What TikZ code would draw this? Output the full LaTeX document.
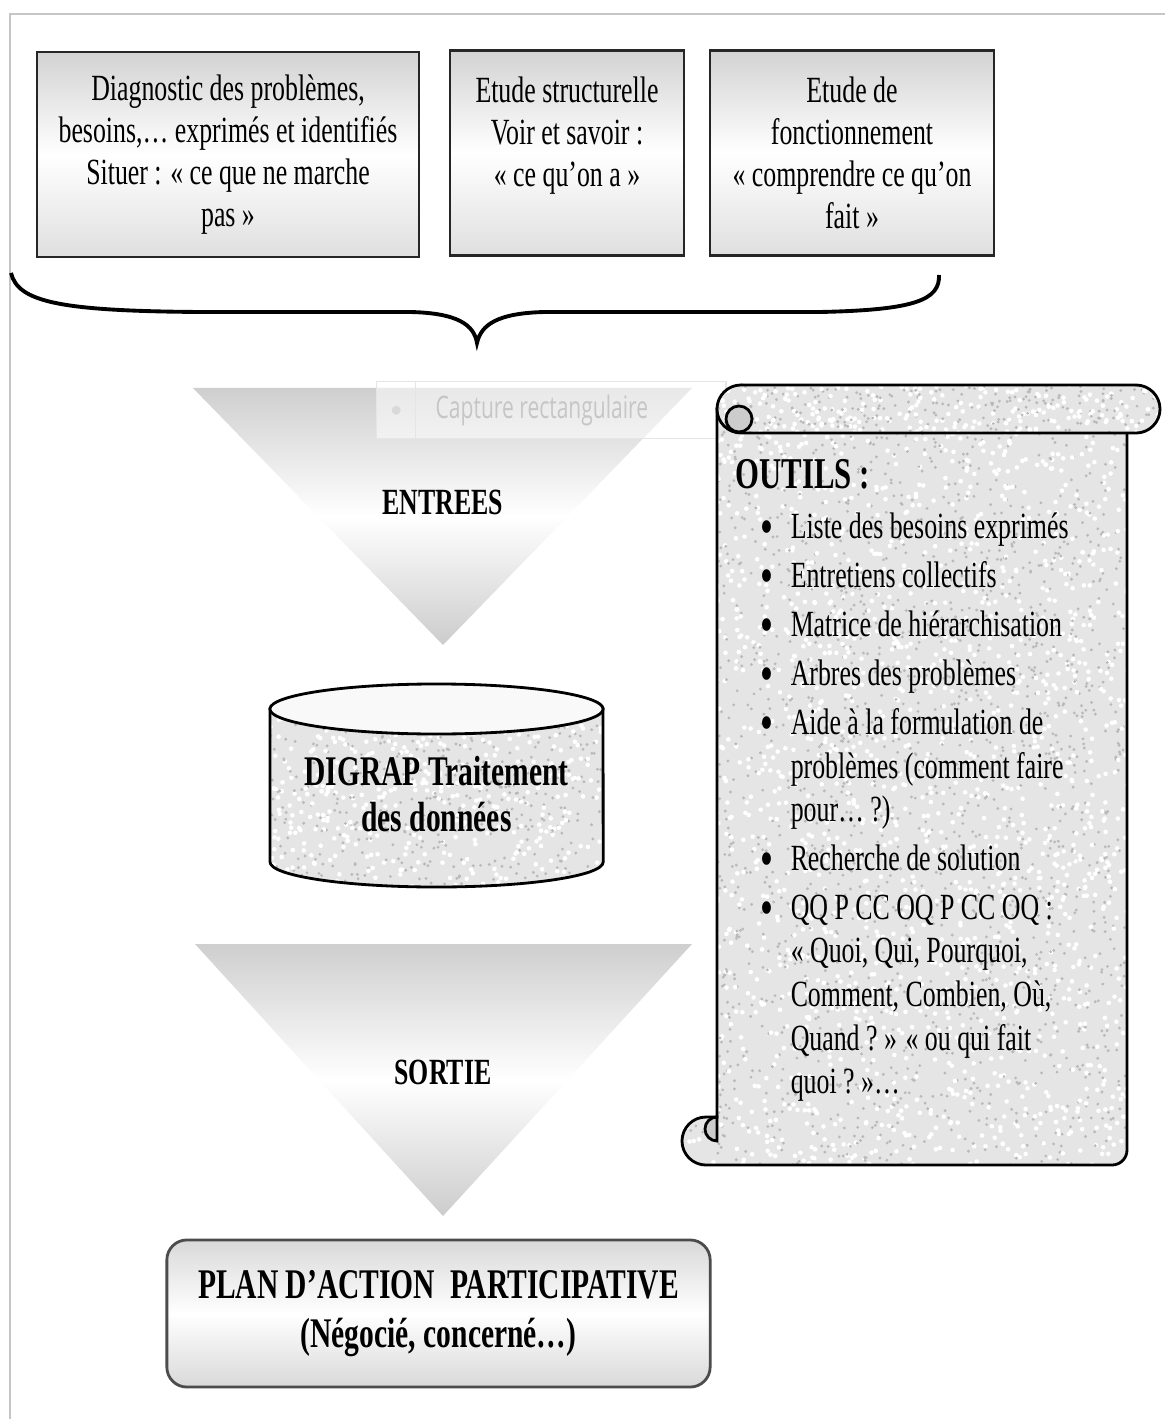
\documentclass[tikz,border=0pt]{standalone}
\usepackage{fontspec}
\setmainfont{Liberation Serif}[FakeStretch=0.7]
\newfontfamily\capfont{Open Sans}[FakeStretch=0.68]
\usetikzlibrary{positioning, calc}

% speckled stone look for the scroll and the drum
\newcommand{\granite}[5]{%
  \foreach \k in {1,...,#5}{%
    \fill[gray!55] ({#1+rnd*(#3-#1)},{#2+rnd*(#4-#2)}) circle (0.45pt);
    \fill[white] ({#1+rnd*(#3-#1)},{#2+rnd*(#4-#2)}) circle (0.65pt);
  }}
\newcommand{\scrollbody}{(717,409) -- (717,1117) -- (706,1117) arc[start angle=90, end angle=270, radius=0.24cm] -- (1112,1165) arc[start angle=270, end angle=360, radius=0.15cm] -- (1127,409) -- cycle}
\newcommand{\scrollroll}{(741,385) -- (1136,385) arc[start angle=90, end angle=-90, radius=0.24cm] -- (741,433) arc[start angle=270, end angle=90, radius=0.24cm] -- cycle}
\newcommand{\drumbody}{(270,709) -- (270,862) arc[start angle=180, end angle=360, x radius=1.665cm, y radius=0.25cm] -- (603,709) -- cycle}
\newcommand{\tooldot}{\makebox[0.1cm]{\raisebox{-0.35ex}{\fontsize{15}{15}\selectfont\textbullet}}}

\begin{document}
\begin{tikzpicture}[
    x=0.01cm, y=-0.01cm,
    topbox/.style={rectangle, draw=black!85, line width=0.7pt, top color=gray!35, bottom color=gray!25, middle color=white, align=center, inner sep=1pt, font=\fontsize{10.5}{11.95}\selectfont},
    funnel/.style={top color=gray!38, bottom color=gray!40, middle color=white},
    stage/.style={font=\bfseries\fontsize{10.5}{12}\selectfont},
    rock/.style={draw=black, line width=0.8pt},
    planbox/.style={rectangle, rounded corners=0.2cm, draw=black!70, line width=0.8pt, top color=gray!30, bottom color=gray!30, middle color=white, align=center, font=\bfseries\fontsize{12}{14}\selectfont},
    brace/.style={line width=1.1pt}
]
    \pgfmathsetseed{11}
    \useasboundingbox (0,0) rectangle (1165,1419);
    \fill[white] (0,0) rectangle (1165,1419);

    % frame
    \draw[gray!45, line width=0.5pt] (10,1419) -- (10,14) -- (1165,14);

    % three studies
    \node[topbox, minimum width=3.82cm, minimum height=2.05cm] (diag) at (228,154.5) {Diagnostic des problèmes,\\besoins,… exprimés et identifiés\\Situer : «~ce que ne marche\\pas~»};
    \node[topbox, minimum width=2.34cm, minimum height=2.05cm] (struct) at (567,153) {Etude structurelle\\Voir et savoir :\\«~ce qu’on a~»\\ \mbox{}};
    \node[topbox, minimum width=2.84cm, minimum height=2.05cm] (fonct) at (852,153) {Etude de\\fonctionnement\\«~comprendre ce qu’on\\fait~»};

    % brace
    \draw[brace] (11,273) .. controls (18,302) and (60,311) .. (200,312) -- (410,312) .. controls (458,313) and (474,325) .. (477,343) .. controls (481,325) and (497,313) .. (545,312) -- (820,312) .. controls (915,310) and (940,300) .. (939,275);

    % entrees
    \shade[funnel] (193,388) -- (692,388) -- (443,645) -- cycle;
    \node[stage] (entrees) at (443,502) {ENTREES};

    % screen capture tag
    \node[draw=gray!20, fill=white, fill opacity=0.55, minimum width=3.49cm, minimum height=0.57cm, anchor=north west, inner sep=0pt] (capture) at (376,381) {};
    \node[draw=gray!20, minimum width=0.39cm, minimum height=0.57cm, anchor=north west, inner sep=0pt] (capicon) at (376,381) {};
    \fill[gray!30] (capicon.center) circle (0.045cm);
    \node[anchor=west, inner sep=0pt, text=gray!45, font=\capfont\fontsize{8.8}{10}\selectfont] (captext) at (435,410) {Capture rectangulaire};

    % data drum
    \begin{scope}
        \clip \drumbody;
        \fill[gray!20] (260,680) rectangle (610,890);
        \granite{270}{700}{603}{890}{450}
    \end{scope}
    \draw[rock] \drumbody;
    \draw[rock, fill=gray!5] (436.5,709) ellipse [x radius=1.665cm, y radius=0.25cm];
    \node[stage, font=\bfseries\fontsize{12}{13.1}\selectfont, align=center] (digrap) at (436.5,794) {DIGRAP Traitement\\des données};

    % sortie
    \shade[funnel] (195,944) -- (692,944) -- (443,1216) -- cycle;
    \node[stage] (sortie) at (443,1072) {SORTIE};

    % plan
    \node[planbox, minimum width=5.43cm, minimum height=1.47cm] (plan) at (438.5,1313.5) {PLAN D’ACTION~~PARTICIPATIVE\\(Négocié, concerné…)};

    % tools scroll
    \begin{scope}
        \clip \scrollbody;
        \fill[gray!20] (680,380) rectangle (1165,1170);
        \granite{680}{400}{1130}{1170}{1900}
    \end{scope}
    \draw[rock] \scrollbody;
    \begin{scope}
        \clip \scrollroll;
        \fill[gray!20] (700,380) rectangle (1165,440);
        \granite{710}{380}{1165}{440}{300}
    \end{scope}
    \draw[rock] \scrollroll;
    \draw[rock, fill=gray!40] (739,419) circle (0.13cm);
    \draw[rock, fill=gray!40] (717,1141) arc[start angle=270, end angle=90, radius=0.12cm] -- cycle;

    \node[anchor=north west, inner sep=0pt, font=\fontsize{10.5}{12.4}\selectfont] (outils) at (735,457) {%
      \begin{tabular}{@{\hspace{0.26cm}}l@{\hspace{0.19cm}}l@{}}
        \multicolumn{2}{@{}l@{}}{\bfseries\fontsize{12.5}{14}\selectfont OUTILS :}\\[2pt]
        \tooldot & Liste des besoins exprimés\\[1.5pt]
        \tooldot & Entretiens collectifs\\[1.5pt]
        \tooldot & Matrice de hiérarchisation\\[1.5pt]
        \tooldot & Arbres des problèmes\\[1.5pt]
        \tooldot & Aide à la formulation de\\
                 & problèmes (comment faire\\
                 & pour…~?)\\[1.5pt]
        \tooldot & Recherche de solution\\[1.5pt]
        \tooldot & QQ P CC OQ P CC OQ :\\
                 & «~Quoi, Qui, Pourquoi,\\
                 & Comment, Combien, Où,\\
                 & Quand ?~» «~ou qui fait\\
                 & quoi ?~»…
      \end{tabular}};

\end{tikzpicture}
\end{document}
